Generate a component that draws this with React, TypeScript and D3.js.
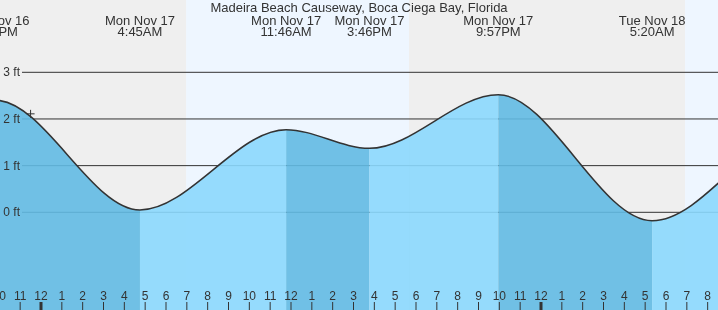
import React from "react";
import * as d3 from "d3";

const WIDTH = 718;
const HEIGHT = 310;

const TITLE = "Madeira Beach Causeway, Boca Ciega Bay, Florida";

// Tide extremes (local time) and heights in ft
const tideTimes: Date[] = [
  new Date(2025, 10, 16, 15, 40),
  new Date(2025, 10, 16, 21, 49),
  new Date(2025, 10, 17, 4, 45),
  new Date(2025, 10, 17, 11, 46),
  new Date(2025, 10, 17, 15, 46),
  new Date(2025, 10, 17, 21, 57),
  new Date(2025, 10, 18, 5, 20),
  new Date(2025, 10, 18, 12, 50),
  new Date(2025, 10, 18, 17, 30),
];
const tideHeights: number[] = [1.1, 2.4, 0.05, 1.77, 1.37, 2.52, -0.18, 1.9, 1.4];

// Sunrise / sunset
const sunEvents: Date[] = [
  new Date(2025, 10, 17, 6, 58),
  new Date(2025, 10, 17, 17, 40),
  new Date(2025, 10, 18, 6, 55),
];

const yTicks: number[] = [0, 1, 2, 3];

const nowTime = new Date(2025, 10, 16, 23, 30);
const nowHeight = 2.11;

const FONT = "'Liberation Sans', Arial, sans-serif";
const TEXT = "#333";
const NIGHT = "#efefef";
const DAY = "#eef6ff";
const RISE = "#8bd8fd";
const FALL = "#62bae3";

export default function App() {
  const x = d3
    .scaleTime()
    .domain([new Date(2025, 10, 17, 0, 0), new Date(2025, 10, 18, 0, 0)])
    .range([41, 541]);
  const y = d3.scaleLinear().domain([0, 3]).range([212.3, 72.3]);

  const pts: [Date, number][] = tideTimes.map((t, i) => [t, tideHeights[i]]);

  const line = d3
    .line<[Date, number]>()
    .x((d) => x(d[0]))
    .y((d) => y(d[1]))
    .curve(d3.curveMonotoneX);
  const area = d3
    .area<[Date, number]>()
    .x((d) => x(d[0]))
    .y0(HEIGHT + 5)
    .y1((d) => y(d[1]))
    .curve(d3.curveMonotoneX);

  const left = x.invert(-20);
  const right = x.invert(WIDTH + 20);

  // day/night bands
  const bounds = [left, ...sunEvents, right];
  const bands = bounds.slice(0, -1).map((b, i) => ({
    x0: x(b),
    x1: x(bounds[i + 1]),
    day: i % 2 === 1,
  }));

  const hourTicks = d3.timeHour.range(x.invert(-15), x.invert(WIDTH + 15));
  const fmtHour = d3.timeFormat("%-I");
  const fmtDay = d3.timeFormat("%a %b %-d");
  const fmtTime = d3.timeFormat("%-I:%M%p");

  const segs = pts.slice(0, -1).map((p, i) => ({
    x0: x(p[0]),
    x1: x(pts[i + 1][0]),
    falling: pts[i + 1][1] < p[1],
  }));

  const labelled = pts.filter((p) => x(p[0]) > -60 && x(p[0]) < WIDTH + 60);

  const nx = x(nowTime);
  const ny = y(nowHeight);

  return (
    <svg
      width={WIDTH}
      height={HEIGHT}
      style={{ position: "fixed", left: 0, top: 0, display: "block" }}
      fontFamily={FONT}
    >
      <defs>
        <clipPath id="water">
          <path d={area(pts) || ""} />
        </clipPath>
      </defs>
      {bands.map((b, i) => (
        <rect key={i} x={b.x0} y={0} width={b.x1 - b.x0} height={HEIGHT} fill={b.day ? DAY : NIGHT} />
      ))}
      {yTicks.map((v) => (
        <line key={v} x1={22} x2={WIDTH} y1={y(v)} y2={y(v)} stroke="#333" strokeWidth={1} />
      ))}
      <g clipPath="url(#water)">
        {segs.map((s, i) => (
          <rect
            key={i}
            x={s.x0}
            y={0}
            width={s.x1 - s.x0}
            height={HEIGHT}
            fill={s.falling ? FALL : RISE}
            fillOpacity={0.9}
          />
        ))}
      </g>
      <path d={line(pts) || ""} fill="none" stroke="#333" strokeWidth={1.5} />
      {yTicks.map((v) => (
        <text key={v} x={20} y={y(v) + 4} textAnchor="end" fontSize={12} fill={TEXT}>
          {v} ft
        </text>
      ))}
      {hourTicks.map((t, i) => {
        const xx = x(t);
        const midnight = t.getHours() === 0;
        return (
          <g key={i}>
            <text x={xx} y={300} textAnchor="middle" fontSize={12} fill={TEXT}>
              {fmtHour(t)}
            </text>
            <line
              x1={xx}
              x2={xx}
              y1={302}
              y2={HEIGHT}
              stroke="#333"
              strokeWidth={midnight ? 3 : 1}
            />
          </g>
        );
      })}
      <text x={359} y={12} textAnchor="middle" fontSize={13} fill={TEXT}>
        {TITLE}
      </text>
      {labelled.map((p, i) => (
        <g key={i}>
          <text x={x(p[0])} y={24.5} textAnchor="middle" fontSize={13} fill={TEXT}>
            {fmtDay(p[0])}
          </text>
          <text x={x(p[0])} y={36} textAnchor="middle" fontSize={13} fill={TEXT}>
            {fmtTime(p[0])}
          </text>
        </g>
      ))}
      <line x1={nx - 4} x2={nx + 4} y1={ny} y2={ny} stroke="#333" strokeWidth={1} />
      <line x1={nx} x2={nx} y1={ny - 4} y2={ny + 4} stroke="#333" strokeWidth={1} />
    </svg>
  );
}
